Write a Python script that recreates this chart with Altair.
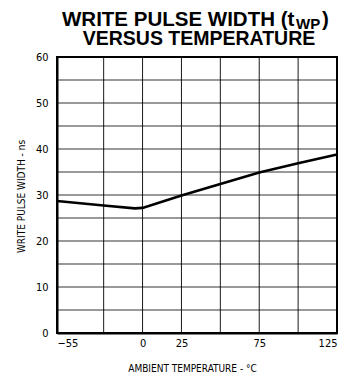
import altair as alt
import pandas as pd

# Data
temps = [-55, -25, -5, 0, 25, 50, 75, 100, 125]
twp_ns = [28.7, 27.7, 27.1, 27.2, 29.9, 32.4, 34.9, 36.9, 38.8]

x_grid = [-55, -25, 0, 25, 50, 75, 100, 125]
x_labeled = [-55, 0, 25, 75, 125]
y_grid = [0, 5, 10, 15, 20, 25, 30, 35, 40, 45, 50, 55, 60]
y_labeled = [0, 10, 20, 30, 40, 50, 60]

title_line1 = "WRITE PULSE WIDTH (t"
title_sub = "WP"
title_close = ")"
title_line2 = "VERSUS TEMPERATURE"
x_title = "AMBIENT TEMPERATURE - °C"
y_title = "WRITE PULSE WIDTH - ns"

df = pd.DataFrame({"temp": temps, "twp": twp_ns})
df_vgrid = pd.DataFrame({"temp": x_grid})
df_hgrid = pd.DataFrame({"twp": y_grid})

LAB_FONT = "Liberation Sans Narrow, DejaVu Sans Condensed, sans-serif"
TITLE_FONT = "Liberation Sans, Arial, Helvetica, sans-serif"

x_lab_expr = "indexof([%s], datum.value) >= 0 ? datum.label : ''" % ",".join(str(v) for v in x_labeled)
y_lab_expr = "indexof([%s], datum.value) >= 0 ? datum.label : ''" % ",".join(str(v) for v in y_labeled)

W, H = 280, 276

x_enc = alt.X(
    "temp:Q",
    scale=alt.Scale(domain=[-55, 125], nice=False, zero=False),
    axis=alt.Axis(
        values=x_grid,
        labelExpr=x_lab_expr,
        title=x_title,
        titleX=135,
        titleY=38,
        titleBaseline="alphabetic",
        titleAnchor="middle",
        titleAlign="center",
        labelPadding=4,
    ),
)
y_enc = alt.Y(
    "twp:Q",
    scale=alt.Scale(domain=[0, 60], nice=False),
    axis=alt.Axis(
        values=y_grid,
        labelExpr=y_lab_expr,
        title=y_title,
        titleAngle=270,
        titleX=-36,
        titleY=H / 2 + 1,
        titleAlign="center",
        titleBaseline="middle",
        labelPadding=9,
    ),
)

vgrid = alt.Chart(df_vgrid).mark_rule(color="black", strokeWidth=1, opacity=0.9).encode(x=x_enc)
hgrid = alt.Chart(df_hgrid).mark_rule(color="black", strokeWidth=1, opacity=0.8).encode(y=y_enc)

line = alt.Chart(df).mark_line(color="black", strokeWidth=2.6).encode(x=x_enc, y=y_enc)

one = alt.Data(values=[{"k": 1}])

t1 = alt.Chart(one).mark_text(
    text=title_line1, font=TITLE_FONT, fontWeight="bold", fontSize=20.5,
    align="left", baseline="alphabetic", color="black",
).encode(x=alt.value(5), y=alt.value(-31))

t_sub = alt.Chart(one).mark_text(
    text=title_sub, font=TITLE_FONT, fontWeight="bold", fontSize=15,
    align="left", baseline="alphabetic", color="black",
).encode(x=alt.value(239), y=alt.value(-28))

t_close = alt.Chart(one).mark_text(
    text=title_close, font=TITLE_FONT, fontWeight="bold", fontSize=20.5,
    align="left", baseline="alphabetic", color="black",
).encode(x=alt.value(265), y=alt.value(-31))

t2 = alt.Chart(one).mark_text(
    text=title_line2, font=TITLE_FONT, fontWeight="bold", fontSize=19.5,
    align="center", baseline="alphabetic", color="black",
).encode(x=alt.value(142), y=alt.value(-12))

chart = (
    alt.layer(vgrid, hgrid, line, t1, t_sub, t_close, t2)
    .properties(
        width=W,
        height=H,
        autosize=alt.AutoSizeParams(type="none"),
        padding={"left": 49, "top": 49, "right": 8, "bottom": 40},
        background="white",
    )
    .configure_view(stroke="black", strokeWidth=2)
    .configure_axis(
        grid=False,
        domainColor="black",
        domainWidth=2,
        ticks=False,
        labelFont=LAB_FONT,
        labelFontSize=11,
        labelColor="black",
        titleFont=LAB_FONT,
        titleFontSize=10,
        titleFontWeight="normal",
        titleColor="black",
    )
)

chart.save("out.html", embed_options={"renderer": "svg", "actions": False})
